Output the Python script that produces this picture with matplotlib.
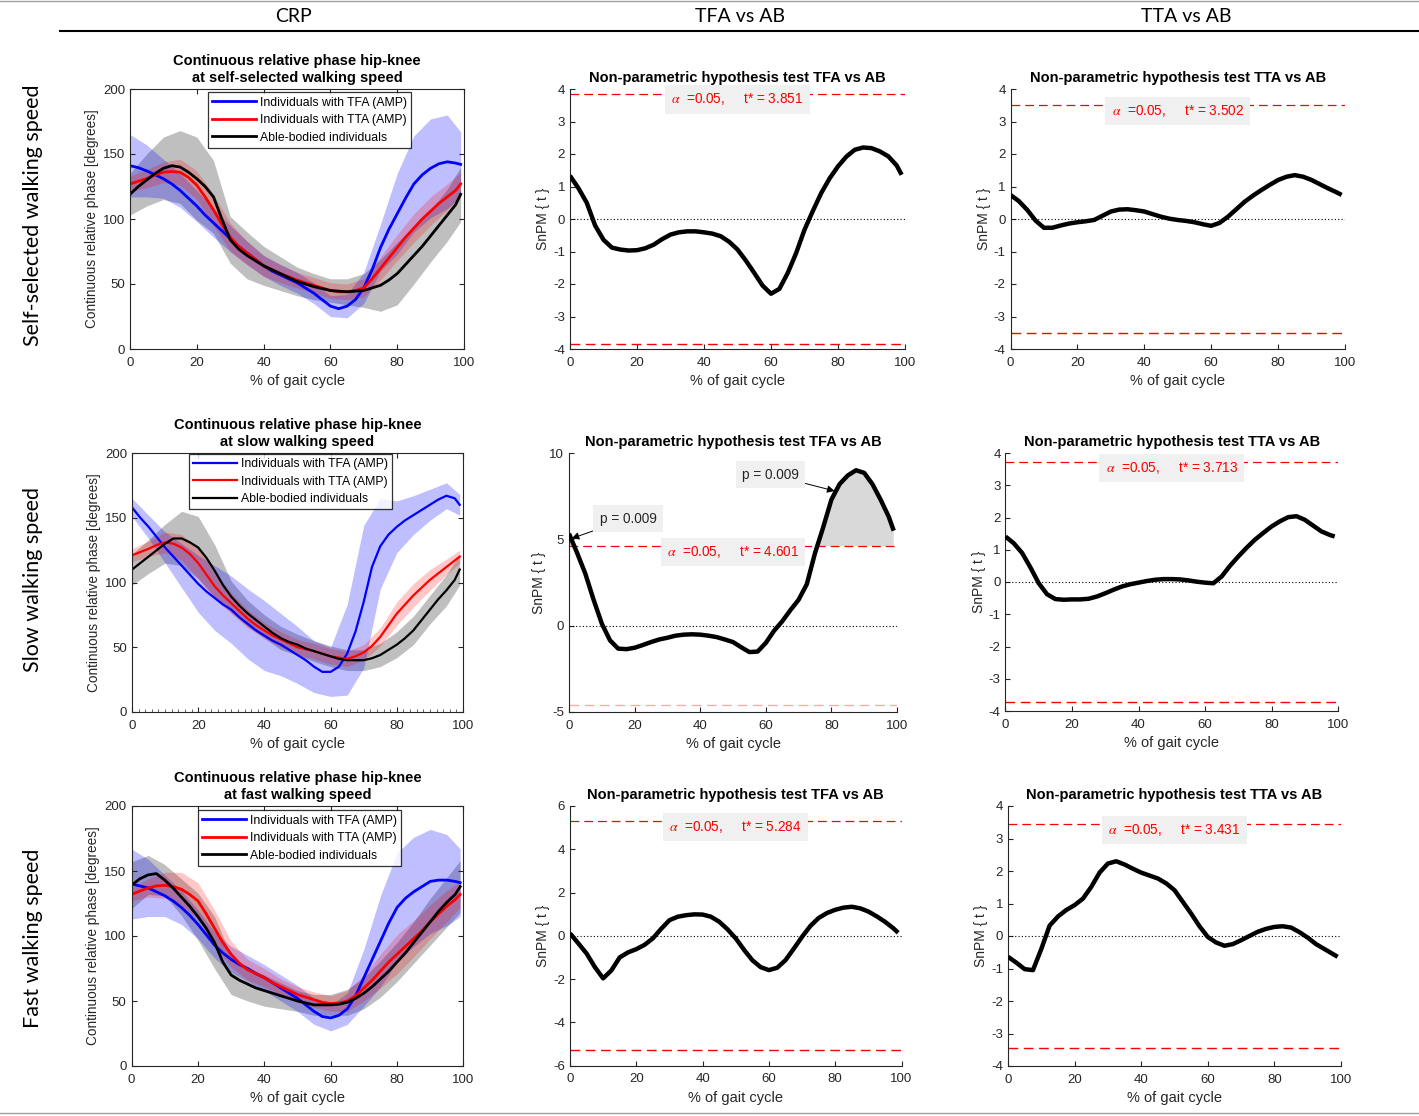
import matplotlib
matplotlib.use("Agg")
import matplotlib.pyplot as plt
from matplotlib.lines import Line2D
import numpy as np

plt.rcParams['font.family'] = ['Liberation Sans', 'DejaVu Sans']
plt.rcParams['mathtext.fontset'] = 'stix'
plt.rcParams['axes.unicode_minus'] = False

W, H = 1419, 1116

# ---------------- data ----------------
# coarse grid for the SD bands, fine grid for the curves
gait = [0, 5, 10, 15, 20, 25, 30, 35, 40, 45, 50, 55, 60, 65, 70, 75, 80, 85, 90, 95, 99]
gait_fine = [0, 2.5, 5, 7.5, 10, 12.5, 15, 17.5, 20, 22.5, 25, 27.5, 30, 32.5, 35, 37.5, 40,
             42.5, 45, 47.5, 50, 52.5, 55, 57.5, 60, 62.5, 65, 67.5, 70, 72.5, 75, 77.5, 80,
             82.5, 85, 87.5, 90, 92.5, 95, 97.5, 99]

col_headers = ["CRP", "TFA vs AB", "TTA vs AB"]
row_labels = ["Self-selected walking speed", "Slow walking speed", "Fast walking speed"]
speed_names = ["self-selected", "slow", "fast"]
legend_labels = ["Individuals with TFA (AMP)", "Individuals with TTA (AMP)", "Able-bodied individuals"]

# CRP mean curves (degrees, on gait_fine)
tfa_ss = [141, 139.5, 137, 134, 131, 127, 122, 116, 110, 103, 97, 91, 85, 79, 74, 69, 64, 60, 57,
          54, 51, 47, 43, 38, 33, 31, 33, 38, 47, 61, 78, 92, 104, 116, 127, 134, 139, 142.5, 144,
          143, 142]
tta_ss = [127, 129, 131, 134, 136, 136.5, 136, 132, 126, 117, 107, 96, 86, 79, 74, 69, 64, 61, 58,
          55.5, 53, 51, 49, 47, 45, 44, 44, 45, 47, 54, 62, 70, 78, 86, 93, 100, 106, 112, 117,
          122, 127]
ab_ss = [119, 125, 130, 135, 139, 141, 140, 136, 131, 125, 117, 100, 84, 77, 72, 68, 64, 61, 58,
         55, 52, 50, 48, 46.5, 45, 44.5, 44, 44.5, 45, 47, 49, 53, 58, 65, 72, 79, 87, 95, 103,
         111, 119]
tfa_slow = [158, 150, 143, 135, 127, 120, 113, 106, 99, 93, 88, 83, 79, 73, 68, 63, 59, 55, 52,
            48, 44, 40, 35, 31, 31, 35, 45, 62, 85, 112, 128, 137, 143, 148, 152, 156, 160, 164,
            167, 165, 160]
tta_slow = [121, 123.5, 126, 129, 131, 130, 127, 122, 115, 106, 97, 90, 84, 78, 72, 67, 63, 59,
            56, 53, 50, 48.5, 47, 45, 43, 42, 41, 43, 46, 51, 58, 67, 76, 83, 90, 96, 102, 107,
            112, 117, 120]
ab_slow = [110, 115, 120, 125, 130, 134, 134, 131, 127, 119, 109, 98, 89, 82, 76, 71, 66, 61, 57,
           54, 52, 49, 47, 45, 43, 41, 40, 40, 40, 41.5, 44, 48, 52, 57, 63, 71, 79, 87, 94, 102,
           110]
tfa_fast = [140, 138.5, 137, 134, 131, 127, 122, 116, 109, 101, 93, 87, 82, 78, 75, 71, 68, 64,
            60, 56, 52, 47, 42, 38, 37, 39, 44, 54, 68, 82, 96, 110, 122, 129, 134, 138, 142, 143,
            143, 142, 141]
tta_fast = [132, 134.5, 137, 138.5, 139, 138, 136, 132, 127, 117, 106, 95, 86, 79, 74, 71, 68, 64,
            61, 58, 55, 53, 51, 49, 48, 48.5, 50, 54, 60, 66, 73, 80, 86, 92, 98, 104, 111, 117,
            123, 128, 132]
ab_fast = [139, 144, 147, 148, 143, 137, 130, 123, 115, 106, 95, 80, 70, 66, 63, 60, 58, 56, 54,
           52, 50, 48.5, 47, 47, 47, 47.5, 49, 52, 56, 61, 67, 73, 80, 87, 95, 103, 111, 119, 126,
           132, 138]

# CRP band centres and SDs (degrees, on gait)
tfa_ss_c = [141, 137, 131, 122, 110, 97, 85, 74, 64, 57, 51, 43, 33, 33, 47, 78, 104, 127, 139, 144, 142]
tfa_ss_sd = [24, 20, 15, 13, 12, 11, 10, 9, 8, 8, 8, 8, 8, 9, 12, 18, 31, 37, 38, 36, 25]
tta_ss_c = [127, 131, 136, 136, 126, 107, 86, 74, 64, 58, 53, 49, 45, 44, 47, 62, 78, 93, 106, 117, 127]
tta_ss_sd = [6, 7, 8, 10, 11, 12, 11, 9, 8, 7, 6, 6, 6, 6, 7, 9, 10, 11, 11, 10, 9]
ab_ss_c = [119, 130, 139, 140, 131, 117, 84, 72, 64, 58, 52, 48, 45, 44, 45, 49, 58, 72, 87, 103, 119]
ab_ss_sd = [16, 20, 24, 28, 32, 28, 18, 18, 15, 13, 11, 10, 9, 10, 13, 20, 24, 22, 20, 20, 21]

tfa_slow_c = [158, 143, 127, 113, 99, 88, 79, 68, 59, 52, 44, 35, 31, 48, 89, 130, 143, 152, 160, 167, 160]
tfa_slow_sd = [7, 9, 12, 17, 22, 25, 26, 27, 27, 24, 22, 20, 19, 35, 55, 35, 20, 15, 12, 10, 8]
tta_slow_c = [121, 126, 131, 127, 115, 97, 84, 72, 63, 56, 50, 47, 43, 41, 46, 58, 76, 90, 102, 112, 120]
tta_slow_sd = [5, 6, 8, 10, 12, 10, 8, 7, 6, 6, 6, 6, 6, 6, 6, 7, 9, 9, 8, 6, 5]
ab_slow_c = [110, 120, 130, 134, 127, 109, 89, 76, 66, 57, 52, 47, 43, 40, 40, 44, 52, 63, 79, 94, 110]
ab_slow_sd = [12, 13, 15, 21, 24, 20, 12, 10, 9, 9, 8, 8, 8, 8, 8, 9, 10, 11, 11, 12, 12]

tfa_fast_c = [140, 137, 131, 122, 109, 93, 82, 75, 68, 60, 52, 42, 37, 44, 68, 96, 122, 134, 142, 143, 141]
tfa_fast_sd = [27, 22, 16, 13, 11, 10, 10, 10, 10, 10, 10, 10, 10, 12, 22, 35, 42, 42, 40, 35, 26]
tta_fast_c = [132, 137, 139, 136, 127, 106, 86, 74, 68, 61, 55, 51, 48, 50, 60, 73, 86, 98, 111, 123, 132]
tta_fast_sd = [5, 7, 10, 13, 14, 14, 10, 8, 7, 6, 6, 6, 6, 8, 10, 13, 15, 14, 13, 12, 10]
ab_fast_c = [139, 147, 143, 130, 115, 95, 70, 63, 58, 54, 50, 47, 47, 49, 56, 67, 80, 95, 111, 126, 138]
ab_fast_sd = [18, 15, 12, 14, 18, 20, 15, 13, 12, 10, 8, 8, 8, 10, 12, 14, 15, 16, 18, 19, 20]

# SnPM t statistics (on gait_fine)
snpm_tfa_ss = [1.33, 0.95, 0.5, -0.2, -0.64, -0.88, -0.94, -0.97, -0.96, -0.9, -0.79, -0.62, -0.48,
               -0.41, -0.38, -0.38, -0.41, -0.45, -0.53, -0.7, -0.94, -1.28, -1.66, -2.05, -2.3,
               -2.15, -1.66, -1.05, -0.33, 0.25, 0.8, 1.25, 1.62, 1.92, 2.13, 2.2, 2.18, 2.08,
               1.93, 1.65, 1.36]
snpm_tta_ss = [0.74, 0.55, 0.28, -0.05, -0.27, -0.27, -0.2, -0.14, -0.1, -0.07, -0.03, 0.1, 0.23,
               0.29, 0.3, 0.27, 0.23, 0.15, 0.07, 0.01, -0.03, -0.06, -0.1, -0.16, -0.21, -0.12,
               0.07, 0.3, 0.53, 0.72, 0.89, 1.05, 1.2, 1.3, 1.35, 1.3, 1.2, 1.07, 0.94, 0.82, 0.74]
snpm_tfa_slow = [5.33, 4.2, 3.0, 1.5, 0.12, -0.85, -1.33, -1.36, -1.28, -1.12, -0.95, -0.8, -0.7,
                 -0.58, -0.52, -0.5, -0.52, -0.58, -0.66, -0.8, -0.95, -1.25, -1.53, -1.5, -1.0,
                 -0.3, 0.25, 0.9, 1.5, 2.4, 4.2, 5.7, 7.3, 8.2, 8.7, 9.0, 8.85, 8.2, 7.3, 6.3, 5.5]
snpm_tta_slow = [1.41, 1.2, 0.9, 0.45, -0.04, -0.38, -0.53, -0.55, -0.54, -0.54, -0.52, -0.45,
                 -0.35, -0.24, -0.14, -0.07, -0.02, 0.03, 0.07, 0.09, 0.09, 0.08, 0.05, 0.01,
                 -0.02, -0.04, 0.17, 0.5, 0.79, 1.06, 1.31, 1.52, 1.72, 1.88, 2.01, 2.04, 1.93,
                 1.75, 1.57, 1.46, 1.41]
snpm_tfa_fast = [0.11, -0.35, -0.82, -1.45, -1.97, -1.6, -1.0, -0.77, -0.62, -0.42, -0.12, 0.32,
                 0.72, 0.88, 0.95, 0.99, 0.98, 0.88, 0.65, 0.3, -0.12, -0.65, -1.13, -1.45, -1.59,
                 -1.48, -1.13, -0.6, -0.05, 0.45, 0.82, 1.05, 1.2, 1.3, 1.34, 1.27, 1.12, 0.9,
                 0.65, 0.35, 0.14]
snpm_tta_fast = [-0.64, -0.82, -1.02, -1.05, -0.4, 0.32, 0.6, 0.8, 0.95, 1.15, 1.51, 1.95, 2.23,
                 2.3, 2.2, 2.07, 1.95, 1.86, 1.77, 1.62, 1.41, 1.05, 0.69, 0.3, -0.03, -0.2, -0.3,
                 -0.25, -0.13, 0.0, 0.13, 0.22, 0.28, 0.3, 0.26, 0.12, -0.05, -0.25, -0.4, -0.55,
                 -0.64]

thresh_tfa = [3.851, 4.601, 5.284]
thresh_tta = [3.502, 3.713, 3.431]
p_values_slow_tfa = [0.009, 0.009]

crp_means = [(tfa_ss, tta_ss, ab_ss), (tfa_slow, tta_slow, ab_slow), (tfa_fast, tta_fast, ab_fast)]
crp_bands = [
    (tfa_ss_c, tfa_ss_sd, tta_ss_c, tta_ss_sd, ab_ss_c, ab_ss_sd),
    (tfa_slow_c, tfa_slow_sd, tta_slow_c, tta_slow_sd, ab_slow_c, ab_slow_sd),
    (tfa_fast_c, tfa_fast_sd, tta_fast_c, tta_fast_sd, ab_fast_c, ab_fast_sd),
]
snpm_tfa = [snpm_tfa_ss, snpm_tfa_slow, snpm_tfa_fast]
snpm_tta = [snpm_tta_ss, snpm_tta_slow, snpm_tta_fast]

# ---------------- layout (pixels) ----------------
crp_box = [(130, 464, 89, 349), (132, 463, 453, 712), (131.5, 463.5, 806, 1066)]
tfa_box = [(570, 905, 89, 349), (569, 897, 453, 712), (570, 901.5, 806, 1065.5)]
tta_box = [(1010.5, 1345, 89, 349), (1005.5, 1338, 453, 711), (1008, 1341, 806, 1066)]
legend_anchor = [(0.233, 0.987), (0.172, 0.997), (0.2, 0.983)]
tfa_ylims = [(-4, 4), (-5, 10), (-6, 6)]
tfa_yticks = [np.arange(-4, 5, 1), [-5, 0, 5, 10], np.arange(-6, 7, 2)]

AX_COL = '#262626'

fig = plt.figure(figsize=(W / 100, H / 100), dpi=100)


def add_ax(box):
    l, r, t, b = box
    return fig.add_axes([l / W, 1 - b / H, (r - l) / W, (b - t) / H])


def style(ax, box_on):
    ax.tick_params(direction='in', length=3.5, width=0.8, colors=AX_COL, labelsize=9.5,
                   top=box_on, right=box_on)
    ax.tick_params(axis='x', pad=5.5)
    for s in ax.spines.values():
        s.set_color(AX_COL)
        s.set_linewidth(0.8)
    if not box_on:
        ax.spines['top'].set_visible(False)
        ax.spines['right'].set_visible(False)


box_kw = dict(boxstyle='square,pad=0.45', fc='#f0f0f0', ec='none')
g = np.array(gait)
gf = np.array(gait_fine)

for i in range(3):
    # ---- CRP panel ----
    ax = add_ax(crp_box[i])
    tfa_c, tfa_sd, tta_c, tta_sd, ab_c, ab_sd = [np.array(a, float) for a in crp_bands[i]]
    ax.fill_between(g, ab_c - ab_sd, ab_c + ab_sd, color='black', alpha=0.25, lw=0)
    ax.fill_between(g, tfa_c - tfa_sd, tfa_c + tfa_sd, color='blue', alpha=0.25, lw=0)
    ax.fill_between(g, tta_c - tta_sd, tta_c + tta_sd, color='red', alpha=0.22, lw=0)
    lw = 1.6 if i == 1 else 2.0
    for series, colr, lab in zip(crp_means[i], ['blue', 'red', 'black'], legend_labels):
        ax.plot(gf, series, color=colr, lw=lw, label=lab, solid_joinstyle='round')
    ax.set_xlim(0, 100)
    ax.set_ylim(0, 200)
    ax.set_xticks(np.arange(0, 101, 20))
    ax.set_yticks(np.arange(0, 201, 50))
    if i == 1:
        ax.set_xticks(np.arange(0, 101, 2), minor=True)
        ax.tick_params(which='minor', direction='in', length=2, width=0.5, colors=AX_COL, top=False)
    style(ax, True)
    ax.set_xlabel('% of gait cycle', fontsize=10.5, color=AX_COL, labelpad=4)
    ax.set_ylabel('Continuous relative phase [degrees]', fontsize=9.8, color=AX_COL, labelpad=3)
    ax.set_title('Continuous relative phase hip-knee\nat %s walking speed' % speed_names[i],
                 fontsize=10.5, fontweight='bold', pad=5, linespacing=1.25)
    leg = ax.legend(loc='upper left', bbox_to_anchor=legend_anchor[i], fontsize=8.8,
                    frameon=True, fancybox=False, edgecolor='black', borderaxespad=0,
                    handlelength=3.6, borderpad=0.35, labelspacing=0.45, handletextpad=0.3)
    leg.get_frame().set_linewidth(0.9)

    # ---- SnPM panels ----
    for j, (box, series, thr) in enumerate([(tfa_box[i], snpm_tfa[i], thresh_tfa[i]),
                                              (tta_box[i], snpm_tta[i], thresh_tta[i])]):
        ax = add_ax(box)
        t = np.array(series, float)
        if j == 0:
            ylim = tfa_ylims[i]
            yt = tfa_yticks[i]
        else:
            ylim = (-4, 4)
            yt = np.arange(-4, 5, 1)
        if j == 0 and i == 1:
            ax.fill_between(gf, thr, t, where=t > thr, interpolate=True,
                            color='#d9d9d9', lw=0, zorder=1)
        ax.axhline(0, color='black', ls=(0, (1, 2)), lw=0.8, zorder=2)
        ax.axhline(thr, color='red', ls=(0, (7, 4)), lw=0.9, zorder=2)
        low_col = '#ffaaaa' if (j == 0 and i == 1) else 'red'
        ax.axhline(-thr, color=low_col, ls=(0, (7, 4)), lw=1.0, zorder=2)
        ax.plot(gf, t, color='black', lw=3.2, solid_capstyle='butt', solid_joinstyle='round',
                zorder=3)
        ax.set_xlim(0, 100)
        ax.set_ylim(*ylim)
        ax.set_yticks(yt)
        ax.set_xticks(np.arange(0, 101, 20))
        style(ax, False)
        ax.set_xlabel('% of gait cycle', fontsize=10.5, color=AX_COL, labelpad=4)
        ax.set_ylabel('SnPM { t }', fontsize=10, color=AX_COL, labelpad=2)
        ax.set_title('Non-parametric hypothesis test %s vs AB' % ('TFA' if j == 0 else 'TTA'),
                     fontsize=10.5, fontweight='bold', pad=5)
        ax.annotate(r'$\alpha$  =0.05,     t* = %.3f' % thr, xy=(50, thr), xytext=(0, -4),
                    textcoords='offset points', ha='center', va='center', color='red',
                    fontsize=9.8, zorder=4, bbox=box_kw)
        if j == 0 and i == 1:
            ax.annotate('p = %.3f' % p_values_slow_tfa[0], xy=(0.8, 5.05), xytext=(18, 6.2),
                        ha='center', va='center', fontsize=9.8, color=AX_COL, zorder=4,
                        bbox=box_kw,
                        arrowprops=dict(arrowstyle='-|>', color='black', lw=0.7,
                                        mutation_scale=11, shrinkA=0, shrinkB=0))
            ax.annotate('p = %.3f' % p_values_slow_tfa[1], xy=(81, 7.8), xytext=(61.5, 8.75),
                        ha='center', va='center', fontsize=9.8, color=AX_COL, zorder=4,
                        bbox=box_kw,
                        arrowprops=dict(arrowstyle='-|>', color='black', lw=0.7,
                                        mutation_scale=11, shrinkA=0, shrinkB=0))

# ---- headers ----
header_x = [293, 740, 1186]
for x, txt in zip(header_x, col_headers):
    fig.text(x / W, 1 - 17 / H, txt, ha='center', va='center', fontsize=14,
             family=['Lato', 'DejaVu Sans'])
row_y = [215, 580, 938]
for y, txt in zip(row_y, row_labels):
    fig.text(33 / W, 1 - y / H, txt, ha='center', va='center', rotation=90, fontsize=15.5,
             family=['Lato', 'DejaVu Sans'])

fig.add_artist(Line2D([60 / W, 1.0], [1 - 31 / H, 1 - 31 / H], color='black', lw=1.5))
fig.add_artist(Line2D([0, 1.0], [1 - 1 / H, 1 - 1 / H], color='#a0a0a0', lw=1))
fig.add_artist(Line2D([0, 1.0], [1 - 1113 / H, 1 - 1113 / H], color='#a0a0a0', lw=1))

fig.savefig('out.png', dpi=100, facecolor='white')
